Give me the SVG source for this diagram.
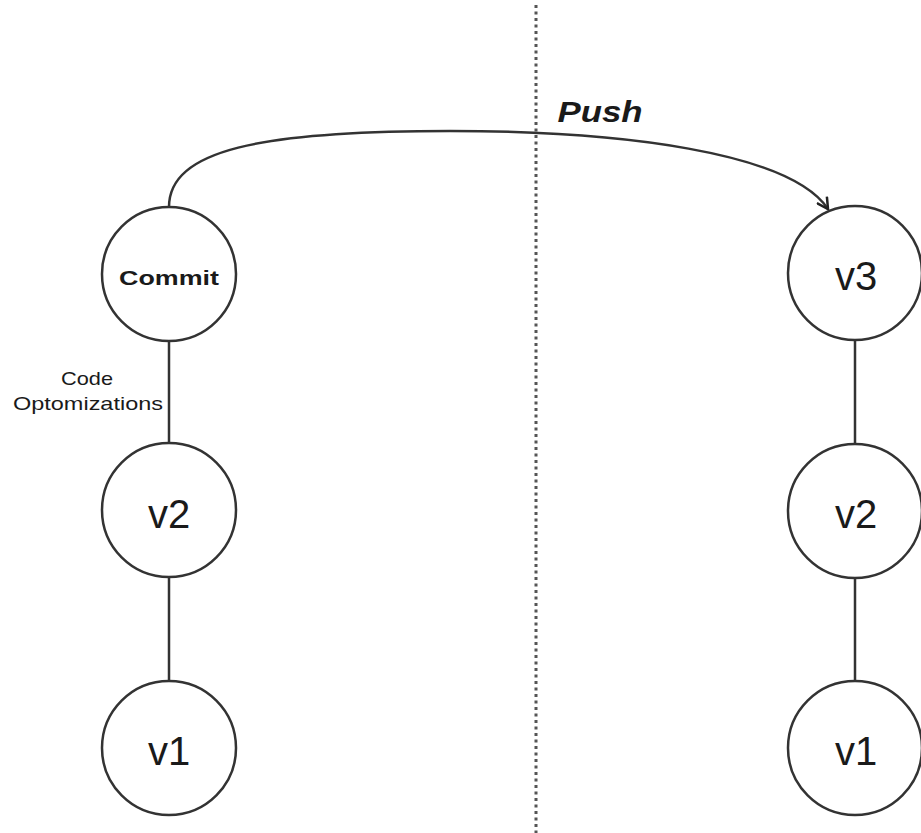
<svg xmlns="http://www.w3.org/2000/svg" width="921" height="833" viewBox="0 0 921 833">
  <style>
    .node circle { fill: #ffffff; stroke: #333333; stroke-width: 2.5; }
    .label { font-family: "Liberation Sans", Arial, sans-serif; fill: #1a1a1a; text-anchor: middle; }
    .ver { font-size: 40px; }
    .link { stroke: #333333; stroke-width: 2.5; fill: none; }
    .divider { stroke: #555555; stroke-width: 3; stroke-dasharray: 3 3.5; }
  </style>
  <defs>
    <marker id="open-arrow" viewBox="0 0 14 14" refX="12" refY="7" markerWidth="14" markerHeight="14" markerUnits="userSpaceOnUse" orient="auto">
      <polyline points="1,1 12,7 1,13" fill="none" stroke="#222222" stroke-width="2.5" stroke-linejoin="miter"/>
    </marker>
  </defs>
  <rect width="921" height="833" fill="#ffffff"/>

  <!-- local / remote divider -->
  <line class="divider" x1="536" y1="5" x2="536" y2="833"/>

  <g id="connectors">
    <line class="link" x1="169" y1="341" x2="169" y2="443"/>
    <line class="link" x1="169" y1="577" x2="169" y2="681"/>
    <line class="link" x1="855" y1="340" x2="855" y2="444"/>
    <line class="link" x1="855" y1="578" x2="855" y2="681"/>
    <path class="link" d="M169,207 C169,150 260,131 450,131 C620,131 790,152 828,209" marker-end="url(#open-arrow)"/>
  </g>

  <text class="label" x="600" y="122" font-size="29" font-weight="bold" font-style="italic" textLength="85" lengthAdjust="spacingAndGlyphs">Push</text>
  <text class="label" x="87" y="385" font-size="19" textLength="52" lengthAdjust="spacingAndGlyphs">Code</text>
  <text class="label" x="88" y="410" font-size="19" textLength="150" lengthAdjust="spacingAndGlyphs">Optomizations</text>

  <g id="commit" class="node">
    <circle cx="169" cy="274" r="67"/>
    <text class="label" x="169" y="285" font-size="21" font-weight="bold" textLength="100" lengthAdjust="spacingAndGlyphs">Commit</text>
  </g>
  <g id="local-v2" class="node">
    <circle cx="169" cy="510" r="67"/>
    <text class="label ver" x="169" y="528">v2</text>
  </g>
  <g id="local-v1" class="node">
    <circle cx="169" cy="748" r="67"/>
    <text class="label ver" x="169" y="765">v1</text>
  </g>
  <g id="remote-v3" class="node">
    <circle cx="855" cy="273" r="67"/>
    <text class="label ver" x="856" y="290">v3</text>
  </g>
  <g id="remote-v2" class="node">
    <circle cx="855" cy="511" r="67"/>
    <text class="label ver" x="856" y="528">v2</text>
  </g>
  <g id="remote-v1" class="node">
    <circle cx="855" cy="748" r="67"/>
    <text class="label ver" x="856" y="765">v1</text>
  </g>
</svg>
